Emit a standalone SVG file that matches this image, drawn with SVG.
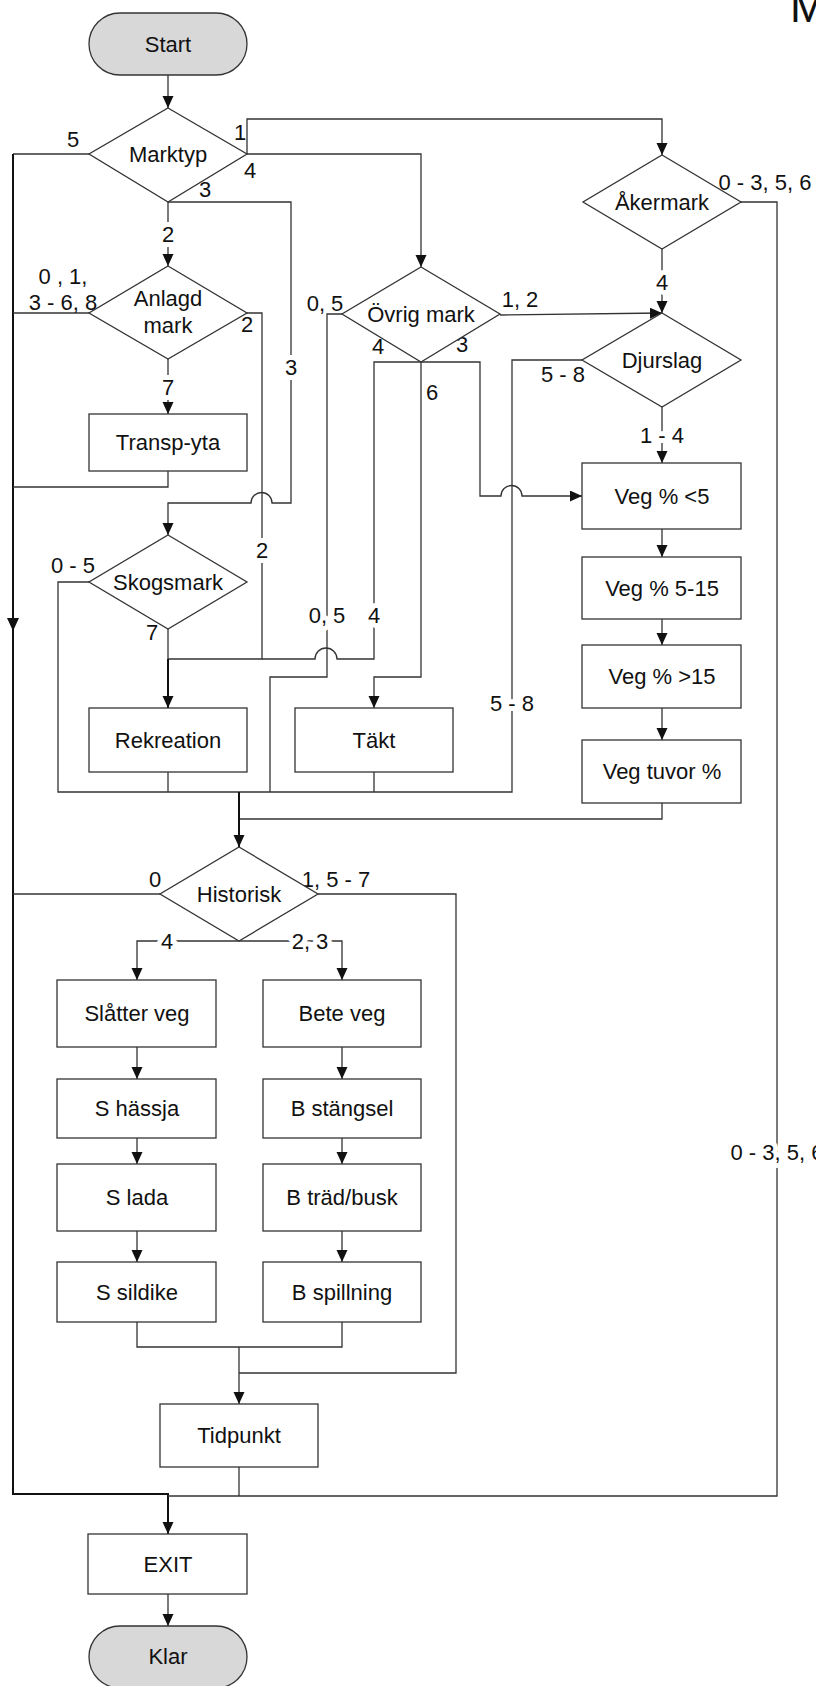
<svg xmlns="http://www.w3.org/2000/svg" width="816" height="1686" viewBox="0 0 816 1686">
<style>
text{font-family:"Liberation Sans",Arial,sans-serif;font-size:22px;fill:#111;text-anchor:middle}
.s{fill:#fff;stroke:#333;stroke-width:1.3}
.t{fill:#d8d8d8;stroke:#333;stroke-width:1.3}
.c{fill:none;stroke:#333;stroke-width:1.3}
.k{fill:none;stroke:#111;stroke-width:2}
.h{stroke:#fff;stroke-width:10;paint-order:stroke;stroke-linejoin:round}
</style>
<defs>
<marker id="a" markerUnits="userSpaceOnUse" markerWidth="13" markerHeight="12" refX="12" refY="5.5" orient="auto"><path d="M0,0 L12,5.5 L0,11 z" fill="#111"/></marker>
</defs>
<rect width="816" height="1686" fill="#fff"/>
<g id="connectors">
<path class="c" d="M168,75 V108" marker-end="url(#a)"/>
<path class="c" d="M247,154 V119 H662 V155" marker-end="url(#a)"/>
<path class="c" d="M247,154 H421 V267" marker-end="url(#a)"/>
<path class="c" d="M89,154 H13"/>
<path class="k" d="M13,154 V1494 H168 V1534" marker-end="url(#a)"/>
<path d="M7,618 L13,631 L19,618 z" fill="#111"/>
<path class="c" d="M168,202 V266" marker-end="url(#a)"/>
<path class="c" d="M168,202 H291 V503 H272 A10.5,10.5 0 0 0 251,503 H168 V535" marker-end="url(#a)"/>
<path class="c" d="M89,313 H13"/>
<path class="c" d="M247,313 H262 V659 H168"/>
<path class="c" d="M168,359 V414" marker-end="url(#a)"/>
<path class="c" d="M168,471 V487 H13"/>
<path class="c" d="M89,582 H58 V792 H239"/>
<path class="c" d="M168,629 V659"/>
<path class="k" d="M168,659 V708" marker-end="url(#a)"/>
<path class="c" d="M421,362 H374 V659 H337 A10.5,10.5 0 0 0 315,659 H262"/>
<path class="c" d="M342,314 H327 V677 H270 V792"/>
<path class="c" d="M421,362 V677 H374 V708" marker-end="url(#a)"/>
<path class="c" d="M421,362 H480 V496 H501 A10.5,10.5 0 0 1 522,496 H582" marker-end="url(#a)"/>
<path class="c" d="M500,315 L662,313" marker-end="url(#a)"/>
<path class="c" d="M662,249 V313" marker-end="url(#a)"/>
<path class="c" d="M741,202 H777 V1496 H168"/>
<path class="c" d="M582,360 H512 V792 H239"/>
<path class="c" d="M662,407 V463" marker-end="url(#a)"/>
<path class="c" d="M662,529 V557" marker-end="url(#a)"/>
<path class="c" d="M662,619 V645" marker-end="url(#a)"/>
<path class="c" d="M662,708 V740" marker-end="url(#a)"/>
<path class="c" d="M662,803 V819 H239"/>
<path class="c" d="M168,772 V792"/>
<path class="c" d="M374,772 V792"/>
<path class="k" d="M239,792 V847" marker-end="url(#a)"/>
<path class="c" d="M160,894 H13"/>
<path class="c" d="M318,894 H456 V1373 H239"/>
<path class="c" d="M239,941 H137 V980" marker-end="url(#a)"/>
<path class="c" d="M239,941 H342 V980" marker-end="url(#a)"/>
<path class="c" d="M137,1047 V1079" marker-end="url(#a)"/>
<path class="c" d="M137,1138 V1164" marker-end="url(#a)"/>
<path class="c" d="M137,1231 V1262" marker-end="url(#a)"/>
<path class="c" d="M342,1047 V1079" marker-end="url(#a)"/>
<path class="c" d="M342,1138 V1164" marker-end="url(#a)"/>
<path class="c" d="M342,1231 V1262" marker-end="url(#a)"/>
<path class="c" d="M137,1322 V1347 H239"/>
<path class="c" d="M342,1322 V1347 H239"/>
<path class="c" d="M239,1347 V1404" marker-end="url(#a)"/>
<path class="c" d="M239,1467 V1496"/>
<path class="c" d="M168,1594 V1626" marker-end="url(#a)"/>
<text x="73" y="147">5</text>
<text x="240" y="140">1</text>
<text x="250" y="178">4</text>
<text x="205" y="197">3</text>
<text class="h" x="168" y="242">2</text>
<text x="63" y="284">0 , 1,</text>
<text x="63" y="310">3 - 6, 8</text>
<text x="247" y="332">2</text>
<text class="h" x="291" y="375">3</text>
<text class="h" x="168" y="395">7</text>
<text class="h" x="262" y="558">2</text>
<text x="73" y="573">0 - 5</text>
<text x="152" y="640">7</text>
<text x="325" y="311">0, 5</text>
<text x="520" y="307">1, 2</text>
<text x="378" y="354">4</text>
<text x="462" y="352">3</text>
<text x="432" y="400">6</text>
<text class="h" x="327" y="623">0, 5</text>
<text class="h" x="374" y="623">4</text>
<text x="765" y="190">0 - 3, 5, 6</text>
<text class="h" x="662" y="290">4</text>
<text x="563" y="382">5 - 8</text>
<text class="h" x="662" y="443">1 - 4</text>
<text class="h" x="512" y="711">5 - 8</text>
<text x="155" y="887">0</text>
<text x="336" y="887">1, 5 - 7</text>
<text class="h" x="167" y="949">4</text>
<text class="h" x="310" y="949">2, 3</text>
<text class="h" x="777" y="1160">0 - 3, 5, 6</text>
</g>
<g id="title"><text x="790" y="22" style="font-size:44px;text-anchor:start">M</text></g>
<g id="start"><rect class="t" x="89" y="13" width="158" height="62" rx="31" ry="31"/><text x="168" y="52">Start</text></g>
<g id="marktyp"><path class="s" d="M168,108 L247,154 L168,202 L89,154 z"/><text x="168" y="162">Marktyp</text></g>
<g id="akermark"><path class="s" d="M662,155 L741,202 L662,249 L583,202 z"/><text x="662" y="210">Åkermark</text></g>
<g id="anlagd"><path class="s" d="M168,266 L247,313 L168,359 L89,313 z"/><text x="168" y="306">Anlagd</text><text x="168" y="333">mark</text></g>
<g id="ovrig"><path class="s" d="M421,267 L500,314 L421,362 L342,314 z"/><text x="421" y="322">Övrig mark</text></g>
<g id="djurslag"><path class="s" d="M662,313 L741,360 L662,407 L582,360 z"/><text x="662" y="368">Djurslag</text></g>
<g id="transp"><rect class="s" x="89" y="414" width="158" height="57"/><text x="168" y="450">Transp-yta</text></g>
<g id="skogsmark"><path class="s" d="M168,535 L247,582 L168,629 L89,582 z"/><text x="168" y="590">Skogsmark</text></g>
<g id="veg1"><rect class="s" x="582" y="463" width="159" height="66"/><text x="662" y="504">Veg % &lt;5</text></g>
<g id="veg2"><rect class="s" x="582" y="557" width="159" height="62"/><text x="662" y="596">Veg % 5-15</text></g>
<g id="veg3"><rect class="s" x="582" y="645" width="159" height="63"/><text x="662" y="684">Veg % &gt;15</text></g>
<g id="veg4"><rect class="s" x="582" y="740" width="159" height="63"/><text x="662" y="779">Veg tuvor %</text></g>
<g id="rekreation"><rect class="s" x="89" y="708" width="158" height="64"/><text x="168" y="748">Rekreation</text></g>
<g id="takt"><rect class="s" x="295" y="708" width="158" height="64"/><text x="374" y="748">Täkt</text></g>
<g id="historisk"><path class="s" d="M239,847 L318,894 L239,941 L160,894 z"/><text x="239" y="902">Historisk</text></g>
<g id="slatter"><rect class="s" x="57" y="980" width="159" height="67"/><text x="137" y="1021">Slåtter veg</text></g>
<g id="shassja"><rect class="s" x="57" y="1079" width="159" height="59"/><text x="137" y="1116">S hässja</text></g>
<g id="slada"><rect class="s" x="57" y="1164" width="159" height="67"/><text x="137" y="1205">S lada</text></g>
<g id="ssildike"><rect class="s" x="57" y="1262" width="159" height="60"/><text x="137" y="1300">S sildike</text></g>
<g id="bete"><rect class="s" x="263" y="980" width="158" height="67"/><text x="342" y="1021">Bete veg</text></g>
<g id="bstangsel"><rect class="s" x="263" y="1079" width="158" height="59"/><text x="342" y="1116">B stängsel</text></g>
<g id="btrad"><rect class="s" x="263" y="1164" width="158" height="67"/><text x="342" y="1205">B träd/busk</text></g>
<g id="bspill"><rect class="s" x="263" y="1262" width="158" height="60"/><text x="342" y="1300">B spillning</text></g>
<g id="tidpunkt"><rect class="s" x="160" y="1404" width="158" height="63"/><text x="239" y="1443">Tidpunkt</text></g>
<g id="exit"><rect class="s" x="88" y="1534" width="159" height="60"/><text x="168" y="1572">EXIT</text></g>
<g id="klar"><rect class="t" x="89" y="1626" width="158" height="62" rx="31" ry="31"/><text x="168" y="1664">Klar</text></g>
</svg>
